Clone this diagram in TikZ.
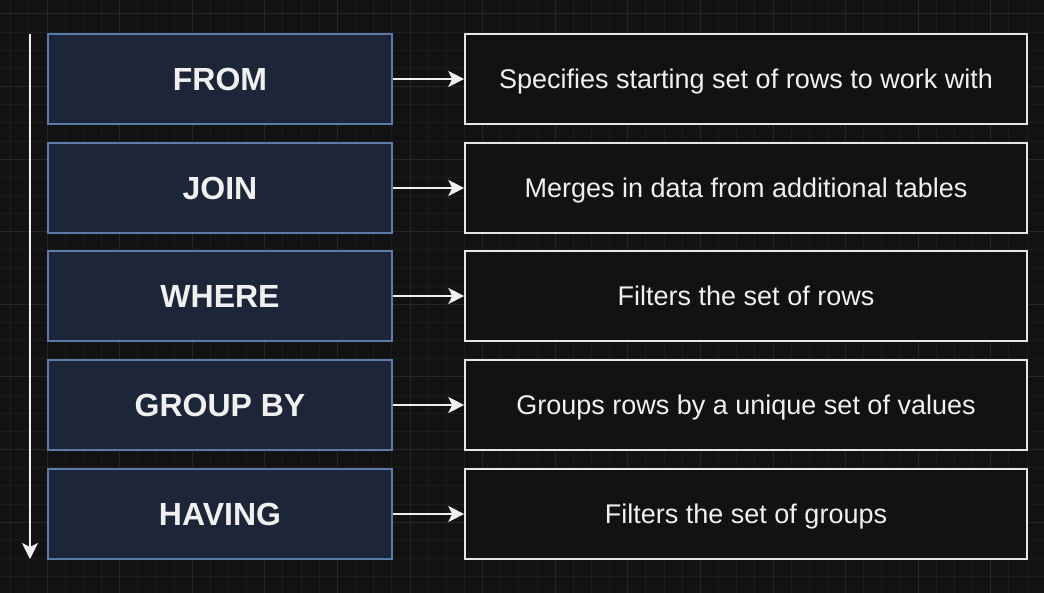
\documentclass[tikz,border=0pt]{standalone}
\usepackage{fontspec}
\setmainfont{Liberation Sans}
\usetikzlibrary{arrows.meta}
\definecolor{bg}{HTML}{121212}
\definecolor{gridminor}{HTML}{1C1C1C}
\definecolor{gridmajor}{HTML}{262626}
\definecolor{clausefill}{HTML}{1D2638}
\definecolor{clauseline}{HTML}{5B7BAD}
\definecolor{textcol}{HTML}{F0F0F0}
\definecolor{descline}{HTML}{E6E6E6}
\tikzset{
  boxtext/.style={text=textcol, inner sep=0pt, text depth=0pt},
  clause/.style={boxtext, draw=clauseline, fill=clausefill, line width=1.6pt,
    minimum width=344pt, minimum height=90pt, text height=23pt,
    font=\fontsize{32}{36}\selectfont\bfseries},
  desc/.style={boxtext, draw=descline, fill=bg, line width=1.6pt,
    minimum width=562pt, minimum height=90pt, text height=19.3pt,
    font=\fontsize{27}{31}\selectfont},
  link/.style={draw=textcol, line width=1.8pt,
    -{Stealth[length=16pt, width=16pt, inset=4pt]}},
}
\begin{document}
\begin{tikzpicture}[x=1pt, y=-1pt]
  % background and grid
  \fill[bg] (0,0) rectangle (1044,593);
  \useasboundingbox (0,0) rectangle (1044,593);
  \foreach \i in {-3,...,54} {
    \pgfmathsetmacro{\gx}{47+18.15*\i}
    \pgfmathtruncatemacro{\mj}{mod(\i+40,4)}
    \ifnum\mj=0 \draw[gridmajor, line width=1pt] (\gx,0) -- (\gx,593);
    \else \draw[gridminor, line width=1pt] (\gx,0) -- (\gx,593); \fi
  }
  \foreach \j in {-1,...,32} {
    \pgfmathsetmacro{\gy}{14+18.15*\j}
    \pgfmathtruncatemacro{\mj}{mod(\j+40,4)}
    \ifnum\mj=0 \draw[gridmajor, line width=1pt] (0,\gy) -- (1044,\gy);
    \else \draw[gridminor, line width=1pt] (0,\gy) -- (1044,\gy); \fi
  }

  % clause boxes
  \node[clause] (from)   at (220,79)  {FROM};
  \node[clause] (join)   at (220,188) {JOIN};
  \node[clause] (where)  at (220,296) {WHERE};
  \node[clause] (group)  at (220,405) {GROUP BY};
  \node[clause] (having) at (220,514) {HAVING};

  % descriptions
  \node[desc] (dfrom)   at (746,79)  {Specifies starting set of rows to work with};
  \node[desc] (djoin)   at (746,188) {Merges in data from additional tables};
  \node[desc] (dwhere)  at (746,296) {Filters the set of rows};
  \node[desc] (dgroup)  at (746,405) {Groups rows by a unique set of values};
  \node[desc] (dhaving) at (746,514) {Filters the set of groups};

  \foreach \a/\b in {from/dfrom, join/djoin, where/dwhere, group/dgroup, having/dhaving}
    \draw[link] (\a.east) -- (\b.west);

  % order of evaluation
  \coordinate (top) at (30,34);
  \coordinate (bottom) at (30,559);
  \draw[link] (top) -- (bottom);
\end{tikzpicture}
\end{document}
